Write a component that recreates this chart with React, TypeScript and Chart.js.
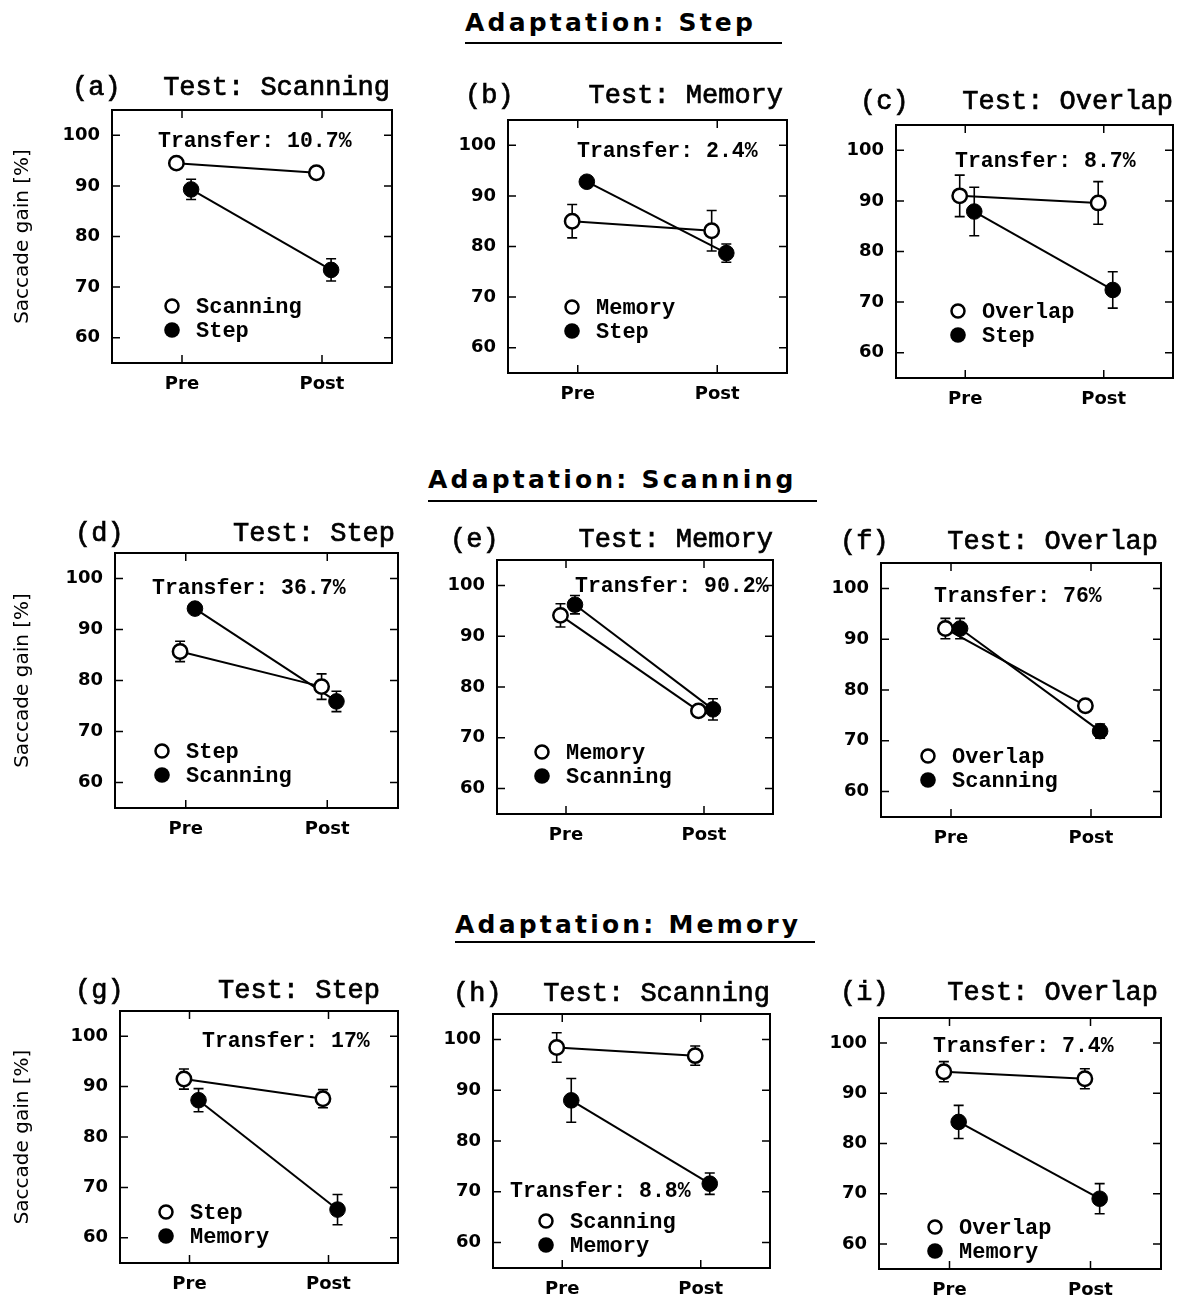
import React, { useEffect, useRef } from "react";
import { Chart, registerables } from "chart.js";

Chart.register(...registerables);

// ---------------- data ----------------
const adaptationTitles = ["Adaptation: Step", "Adaptation: Scanning", "Adaptation: Memory"];
const panelLetters = ["(a)", "(b)", "(c)", "(d)", "(e)", "(f)", "(g)", "(h)", "(i)"];
const testTitles = [
  "Test: Scanning", "Test: Memory", "Test: Overlap",
  "Test: Step", "Test: Memory", "Test: Overlap",
  "Test: Step", "Test: Scanning", "Test: Overlap",
];
const transferLabels = [
  "Transfer: 10.7%", "Transfer: 2.4%", "Transfer: 8.7%",
  "Transfer: 36.7%", "Transfer: 90.2%", "Transfer: 76%",
  "Transfer: 17%", "Transfer: 8.8%", "Transfer: 7.4%",
];
const openLabels = ["Scanning", "Memory", "Overlap", "Step", "Memory", "Overlap", "Step", "Scanning", "Overlap"];
const filledLabels = ["Step", "Step", "Step", "Scanning", "Scanning", "Scanning", "Memory", "Memory", "Memory"];
const phases = ["Pre", "Post"];
const yTickValues = [60, 70, 80, 90, 100];
const yAxisLabel = "Saccade gain [%]";

const openMeans = [
  [94.5, 92.6], [85.0, 83.1], [91.0, 89.6],
  [85.7, 78.8], [94.1, 75.3], [92.1, 76.9],
  [91.5, 87.6], [98.4, 96.8], [94.3, 92.9],
];
const openErrors = [
  [0, 0], [3.3, 4.0], [4.1, 4.2],
  [2.0, 2.5], [2.3, 1.0], [2.0, 0],
  [2.0, 1.8], [2.9, 1.9], [2.0, 2.0],
];
const filledMeans = [
  [89.3, 73.4], [92.8, 78.7], [87.9, 72.4],
  [94.1, 75.9], [96.2, 75.6], [92.1, 71.9],
  [87.3, 65.6], [88.0, 71.6], [84.3, 69.0],
];
const filledErrors = [
  [2.0, 2.2], [0, 1.8], [4.8, 3.6],
  [0, 2.0], [1.8, 2.1], [2.0, 1.4],
  [2.3, 3.0], [4.3, 2.1], [3.3, 3.0],
];

// ---------------- layout (positions only) ----------------
const OPEN_SHIFT = -0.04;
const FILLED_SHIFT = 0.065;

type Frame = {
  L: number; T: number; R: number; B: number;
  labelDx: number; titleDx: number; titleDy: number;
  trDx: number; trDy: number; lgDx: number; lgDy: number;
};
const frames: Frame[] = [
  { L: 112, T: 110, R: 392, B: 363, labelDx: -40, titleDx: -2, titleDy: -15, trDx: 46, trDy: 37, lgDx: 60, lgDy: 196 },
  { L: 508, T: 120, R: 787, B: 373, labelDx: -43, titleDx: -4, titleDy: -17, trDx: 69, trDy: 37, lgDx: 64, lgDy: 187 },
  { L: 896, T: 125, R: 1173, B: 378, labelDx: -36, titleDx: 0, titleDy: -16, trDx: 59, trDy: 42, lgDx: 62, lgDy: 186 },
  { L: 115, T: 553, R: 398, B: 808, labelDx: -40, titleDx: -3, titleDy: -12, trDx: 37, trDy: 41, lgDx: 47, lgDy: 198 },
  { L: 497, T: 560, R: 773, B: 814, labelDx: -47, titleDx: 0, titleDy: -13, trDx: 78, trDy: 32, lgDx: 45, lgDy: 192 },
  { L: 881, T: 563, R: 1161, B: 817, labelDx: -41, titleDx: -3, titleDy: -14, trDx: 53, trDy: 39, lgDx: 47, lgDy: 193 },
  { L: 120, T: 1011, R: 398, B: 1263, labelDx: -45, titleDx: -18, titleDy: -13, trDx: 82, trDy: 36, lgDx: 46, lgDy: 201 },
  { L: 493, T: 1014, R: 770, B: 1268, labelDx: -40, titleDx: 0, titleDy: -13, trDx: 17, trDy: 183, lgDx: 53, lgDy: 207 },
  { L: 879, T: 1018, R: 1161, B: 1269, labelDx: -39, titleDx: -3, titleDy: -18, trDx: 54, trDy: 34, lgDx: 56, lgDy: 209 },
];

const headers = [
  { left: 465, baseline: 31, lineY: 43, lineEnd: 782 },
  { left: 428, baseline: 488, lineY: 501, lineEnd: 817 },
  { left: 455, baseline: 933, lineY: 942, lineEnd: 815 },
];

const PAD_TOP = 60;
const PAD_RIGHT = 15;
const PAD_BOTTOM = 45;

function geometry(idx: number) {
  const f = frames[idx];
  const x0 = idx % 3 === 0 ? 0 : f.L - 80;
  const y0 = f.T - PAD_TOP;
  return { x0, y0, width: f.R + PAD_RIGHT - x0, height: f.B + PAD_BOTTOM - y0 };
}

function Panel({ idx }: { idx: number }) {
  const ref = useRef<HTMLCanvasElement>(null);
  const g = geometry(idx);

  useEffect(() => {
    const canvas = ref.current;
    if (!canvas) return;
    const f = frames[idx];
    const yWidth = f.L - g.x0;

    const series = [
      { means: openMeans[idx], errs: openErrors[idx], shift: OPEN_SHIFT },
      { means: filledMeans[idx], errs: filledErrors[idx], shift: FILLED_SHIFT },
    ];

    const decor = {
      id: "decor" + idx,
      beforeDatasetsDraw(chart: any) {
        const { ctx, scales } = chart;
        const x = scales.x, y = scales.y;
        ctx.save();
        ctx.strokeStyle = "#000";
        ctx.lineWidth = 1.6;
        series.forEach((s) => {
          s.means.forEach((m: number, j: number) => {
            const e = s.errs[j];
            if (!e) return;
            const px = x.getPixelForValue(j + 1 + s.shift);
            const yt = y.getPixelForValue(m + e);
            const yb = y.getPixelForValue(m - e);
            ctx.beginPath();
            ctx.moveTo(px, yt); ctx.lineTo(px, yb);
            ctx.moveTo(px - 5, yt); ctx.lineTo(px + 5, yt);
            ctx.moveTo(px - 5, yb); ctx.lineTo(px + 5, yb);
            ctx.stroke();
          });
        });
        ctx.restore();
      },
      afterDraw(chart: any) {
        const { ctx, chartArea: a, scales } = chart;
        const x = scales.x, y = scales.y;
        const ox = g.x0, oy = g.y0;
        ctx.save();
        // frame
        ctx.strokeStyle = "#000";
        ctx.lineWidth = 2;
        ctx.strokeRect(a.left, a.top, a.right - a.left, a.bottom - a.top);
        // inward ticks
        ctx.lineWidth = 1.5;
        ctx.beginPath();
        yTickValues.forEach((v) => {
          const py = y.getPixelForValue(v);
          ctx.moveTo(a.left, py); ctx.lineTo(a.left + 8, py);
          ctx.moveTo(a.right - 8, py); ctx.lineTo(a.right, py);
        });
        phases.forEach((_, i) => {
          const px = x.getPixelForValue(i + 1);
          ctx.moveTo(px, a.top); ctx.lineTo(px, a.top + 8);
          ctx.moveTo(px, a.bottom - 8); ctx.lineTo(px, a.bottom);
        });
        ctx.stroke();

        ctx.fillStyle = "#000";
        // titles (slightly thickened typewriter face)
        ctx.textBaseline = "alphabetic";
        ctx.font = '27px "Liberation Mono"';
        ctx.lineWidth = 0.7;
        ctx.textAlign = "left";
        const lbx = f.L + f.labelDx - ox, lby = f.T + f.titleDy - oy;
        ctx.fillText(panelLetters[idx], lbx, lby);
        ctx.strokeText(panelLetters[idx], lbx, lby);
        ctx.textAlign = "right";
        const tx = f.R + f.titleDx - ox;
        ctx.fillText(testTitles[idx], tx, lby);
        ctx.strokeText(testTitles[idx], tx, lby);

        // transfer
        ctx.textAlign = "left";
        ctx.font = 'bold 21.5px "Liberation Mono"';
        ctx.fillText(transferLabels[idx], f.L + f.trDx - ox, f.T + f.trDy - oy);

        // legend
        const lx = f.L + f.lgDx - ox;
        const ly = f.T + f.lgDy - oy;
        ctx.font = 'bold 22px "Liberation Mono"';
        ctx.textBaseline = "middle";
        [openLabels[idx], filledLabels[idx]].forEach((label, r) => {
          const cy = ly + r * 24;
          ctx.beginPath();
          ctx.arc(lx, cy, r === 0 ? 6.5 : 7.8, 0, Math.PI * 2);
          if (r === 0) {
            ctx.fillStyle = "#fff";
            ctx.fill();
            ctx.lineWidth = 2.5;
            ctx.stroke();
          } else {
            ctx.fillStyle = "#000";
            ctx.fill();
          }
          ctx.fillStyle = "#000";
          ctx.fillText(label, lx + 24, cy + 1);
        });

        // y-axis title (left column only)
        if (idx % 3 === 0) {
          ctx.save();
          ctx.translate(23 - ox, (a.top + a.bottom) / 2);
          ctx.rotate(-Math.PI / 2);
          ctx.textAlign = "center";
          ctx.textBaseline = "middle";
          ctx.font = '20px "DejaVu Sans"';
          ctx.fillText(yAxisLabel, 0, 0);
          ctx.restore();
        }
        ctx.restore();
      },
    };

    const tickFont = { family: "DejaVu Sans", size: 18, weight: "bold" as const };

    const chart = new Chart(canvas, {
      type: "line",
      data: {
        datasets: [
          {
            label: openLabels[idx],
            data: openMeans[idx].map((v, j) => ({ x: j + 1 + OPEN_SHIFT, y: v })),
            borderColor: "#000",
            borderWidth: 2,
            backgroundColor: "#fff",
            pointBackgroundColor: "#fff",
            pointBorderColor: "#000",
            pointBorderWidth: 2.5,
            pointRadius: 7.2,
            pointHoverRadius: 7.2,
          },
          {
            label: filledLabels[idx],
            data: filledMeans[idx].map((v, j) => ({ x: j + 1 + FILLED_SHIFT, y: v })),
            borderColor: "#000",
            borderWidth: 2,
            backgroundColor: "#000",
            pointBackgroundColor: "#000",
            pointBorderColor: "#000",
            pointBorderWidth: 1,
            pointRadius: 7.8,
            pointHoverRadius: 7.8,
          },
        ],
      },
      options: {
        animation: false,
        responsive: false,
        events: [],
        layout: { padding: { left: 0, top: PAD_TOP, right: PAD_RIGHT, bottom: 0 } },
        plugins: {
          legend: { display: false },
          tooltip: { enabled: false },
          title: { display: false },
        },
        scales: {
          x: {
            type: "linear",
            min: 0.5,
            max: 2.5,
            grid: { display: false, drawTicks: false },
            border: { display: false },
            afterBuildTicks: (s: any) => {
              s.ticks = phases.map((_, i) => ({ value: i + 1 }));
            },
            afterFit: (s: any) => {
              s.height = PAD_BOTTOM;
            },
            ticks: {
              autoSkip: false,
              maxRotation: 0,
              padding: 11,
              color: "#000",
              font: tickFont,
              callback: (v: any) => phases[Math.round(Number(v)) - 1] ?? "",
            },
          },
          y: {
            type: "linear",
            min: 55,
            max: 105,
            grid: { display: false, drawTicks: false },
            border: { display: false },
            afterBuildTicks: (s: any) => {
              s.ticks = yTickValues.map((v) => ({ value: v }));
            },
            afterFit: (s: any) => {
              s.width = yWidth;
            },
            ticks: {
              padding: 12,
              color: "#000",
              font: tickFont,
              callback: (v: any) => String(v),
            },
          },
        },
      },
      plugins: [decor],
    } as any);

    return () => chart.destroy();
  }, [idx]);

  return (
    <canvas
      ref={ref}
      width={g.width}
      height={g.height}
      style={{ position: "absolute", left: g.x0, top: g.y0, width: g.width, height: g.height }}
    />
  );
}

export default function App() {
  return (
    <div style={{ position: "absolute", left: 0, top: 0, width: 1180, height: 1302, background: "#fff", overflow: "hidden" }}>
      {headers.map((h, i) => (
        <React.Fragment key={i}>
          <div
            style={{
              position: "absolute",
              left: h.left,
              top: h.baseline - 21,
              fontFamily: '"DejaVu Sans"',
              fontWeight: "bold",
              fontSize: 25,
              lineHeight: "25px",
              letterSpacing: "3.2px",
              whiteSpace: "nowrap",
              color: "#000",
            }}
          >
            {adaptationTitles[i]}
          </div>
          <div
            style={{
              position: "absolute",
              left: h.left,
              top: h.lineY - 1,
              width: h.lineEnd - h.left,
              height: 2,
              background: "#000",
            }}
          />
        </React.Fragment>
      ))}
      {frames.map((_, i) => (
        <Panel key={i} idx={i} />
      ))}
    </div>
  );
}
